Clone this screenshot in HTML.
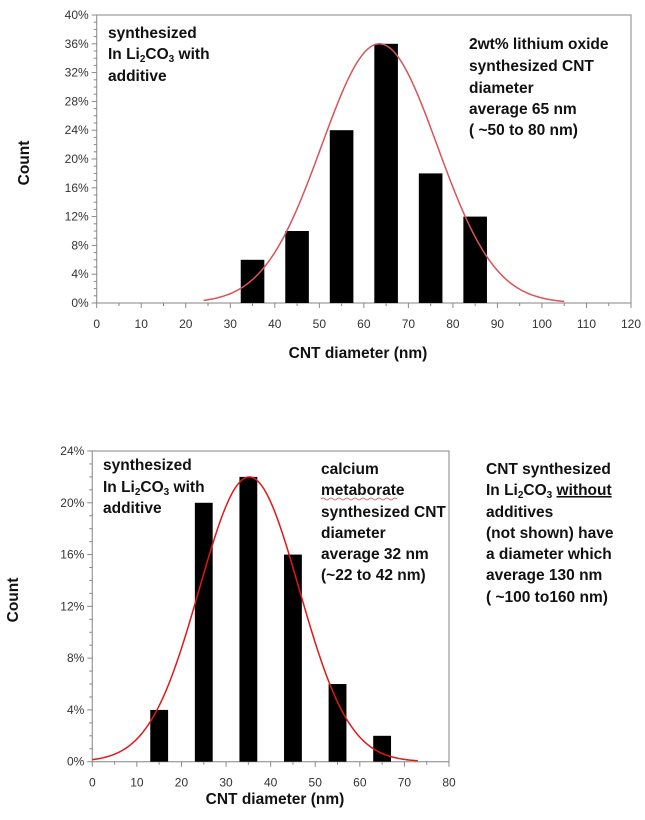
<!DOCTYPE html>
<html><head><meta charset="utf-8">
<style>
body{margin:0;background:#fff;}
svg{display:block;font-family:"Liberation Sans",sans-serif;}
.t{font-weight:bold;font-size:15.5px;fill:#111;}
.tick{font-size:12px;fill:#333;}
.ttl{font-weight:bold;font-size:15.5px;fill:#111;}
</style></head>
<body>
<svg id="s" width="645" height="820" viewBox="0 0 645 820">
<g id="c1"></g>
<g id="c2"></g>
<g>
<text class="t" x="108" y="38">synthesized</text>
<text class="t" x="108" y="59">In Li<tspan font-size="10" dy="3">2</tspan><tspan dy="-3">CO</tspan><tspan font-size="10" dy="3">3</tspan><tspan dy="-3"> with</tspan></text>
<text class="t" x="108" y="81">additive</text>
</g>
<g>
<text class="t" x="469" y="49">2wt% lithium oxide</text>
<text class="t" x="469" y="71">synthesized CNT</text>
<text class="t" x="469" y="93">diameter</text>
<text class="t" x="469" y="114">average 65 nm</text>
<text class="t" x="469" y="135">( ~50 to 80 nm)</text>
</g>
<g>
<text class="t" x="103" y="470">synthesized</text>
<text class="t" x="103" y="492">In Li<tspan font-size="10" dy="3">2</tspan><tspan dy="-3">CO</tspan><tspan font-size="10" dy="3">3</tspan><tspan dy="-3"> with</tspan></text>
<text class="t" x="103" y="513">additive</text>
</g>
<g>
<text class="t" x="321" y="474">calcium</text>
<text class="t" x="321" y="495">metaborate</text>
<text class="t" x="321" y="517">synthesized CNT</text>
<text class="t" x="321" y="538">diameter</text>
<text class="t" x="321" y="559">average 32 nm</text>
<text class="t" x="321" y="580">(~22 to 42 nm)</text>
</g>
<path d="M321 499 q2 -2 4 0 t4 0 t4 0 t4 0 t4 0 t4 0 t4 0 t4 0 t4 0 t4 0 t4 0 t4 0 t4 0 t4 0 t4 0 t4 0 t4 0 t4 0 t4 0" fill="none" stroke="#d44" stroke-width="0.8"/>
<g>
<text class="t" x="486" y="474">CNT synthesized</text>
<text class="t" x="486" y="495">In Li<tspan font-size="10" dy="3">2</tspan><tspan dy="-3">CO</tspan><tspan font-size="10" dy="3">3</tspan><tspan dy="-3"> </tspan><tspan text-decoration="underline">without </tspan></text>
<text class="t" x="486" y="517">additives</text>
<text class="t" x="486" y="538">(not shown) have</text>
<text class="t" x="486" y="559">a diameter which</text>
<text class="t" x="486" y="580">average 130 nm</text>
<text class="t" x="486" y="602">( ~100 to160 nm)</text>
</g>
</svg>
<script>
// Top chart data
const topCats = [35, 45, 55, 65, 75, 85];
const topVals = [6, 10, 24, 36, 18, 12];
const topXTicks = [0, 10, 20, 30, 40, 50, 60, 70, 80, 90, 100, 110, 120];
const topYTicks = [0, 4, 8, 12, 16, 20, 24, 28, 32, 36, 40];
const topFit = [63.5, 13, 36, 24, 105]; // mean, sigma, peak, start, end
// Bottom chart data
const botCats = [15, 25, 35, 45, 55, 65];
const botVals = [4, 20, 22, 16, 6, 2];
const botXTicks = [0, 10, 20, 30, 40, 50, 60, 70, 80];
const botYTicks = [0, 4, 8, 12, 16, 20, 24];
const botFit = [35.2, 11.2, 22, 0, 73];

const NS = "http://www.w3.org/2000/svg";
function mk(parent, tag, attrs) {
  const e = document.createElementNS(NS, tag);
  for (const k in attrs) e.setAttribute(k, attrs[k]);
  parent.appendChild(e);
  return e;
}
function drawChart(g, cfg) {
  const sx = v => cfg.x0 + (v - cfg.xmin) / (cfg.xmax - cfg.xmin) * (cfg.x1 - cfg.x0);
  const sy = v => cfg.y0 - (v / cfg.ymax) * (cfg.y0 - cfg.y1);
  const frame = mk(g, "rect", {x: cfg.x0, y: cfg.y1, width: cfg.x1 - cfg.x0, height: cfg.y0 - cfg.y1, fill: "none", stroke: "#999", "stroke-width": 1.2});
  
  
  for (let v = 0; v <= cfg.ymax; v += 1) {
    const t = mk(g, "line", {x1: cfg.x0 - (v % 4 === 0 ? 5 : 3), x2: cfg.x0, y1: sy(v), y2: sy(v), stroke: "#888", "stroke-width": 1});
    
    
  }
  cfg.yTicks.forEach(v => {
    const t = mk(g, "text", {x: cfg.x0 - 8, y: sy(v) + 4, "text-anchor": "end", class: "tick"});
    t.textContent = v + "%";
    
    
  });
  for (let v = cfg.xmin; v <= cfg.xmax; v += 5) {
    const t = mk(g, "line", {x1: sx(v), x2: sx(v), y1: cfg.y0, y2: cfg.y0 + (v % 10 === 0 ? 5 : 3), stroke: "#888", "stroke-width": 1});
    
    
  }
  cfg.xTicks.forEach(v => {
    const t = mk(g, "text", {x: sx(v), y: cfg.y0 + 25, "text-anchor": "middle", class: "tick"});
    t.textContent = v;
    
    
  });
  cfg.cats.forEach((c, i) => {
    const r = mk(g, "rect", {x: sx(c - cfg.bw / 2), y: sy(cfg.vals[i]), width: sx(c + cfg.bw / 2) - sx(c - cfg.bw / 2), height: cfg.y0 - sy(cfg.vals[i]), fill: "#000"});
    
    
  });
  const [mu, sg, pk, a, b] = cfg.fit;
  let d = "";
  for (let v = a; v <= b + 0.01; v += 0.5) {
    const y = pk * Math.exp(-((v - mu) ** 2) / (2 * sg * sg));
    d += (d ? "L" : "M") + sx(v).toFixed(2) + " " + sy(y).toFixed(2);
  }
  const p = mk(g, "path", {d: d, fill: "none", stroke: cfg.curveColor, "stroke-width": 1.5});
  
  
  const xt = mk(g, "text", {x: cfg.xtx, y: cfg.xty, "text-anchor": "middle", class: "ttl"});
  xt.textContent = "CNT diameter (nm)";
  
  
  const yt = mk(g, "text", {x: 0, y: 0, "text-anchor": "middle", class: "ttl", transform: "translate(" + cfg.ytx + "," + cfg.yty + ") rotate(-90)"});
  yt.textContent = "Count";
  
  
}
drawChart(document.getElementById("c1"), {
  x0: 96.7, x1: 631, xmin: 0, xmax: 120, y0: 303, y1: 15, ymax: 40,
  xTicks: topXTicks, yTicks: topYTicks, cats: topCats, vals: topVals, bw: 5.3,
  fit: topFit, curveColor: "#d9535a", xtx: 358, xty: 358, ytx: 29, yty: 163
});
drawChart(document.getElementById("c2"), {
  x0: 92.3, x1: 449, xmin: 0, xmax: 80, y0: 761.7, y1: 451, ymax: 24,
  xTicks: botXTicks, yTicks: botYTicks, cats: botCats, vals: botVals, bw: 4,
  fit: botFit, curveColor: "#e01818", xtx: 275, xty: 804, ytx: 18, yty: 600
});
</script>
</body></html>
